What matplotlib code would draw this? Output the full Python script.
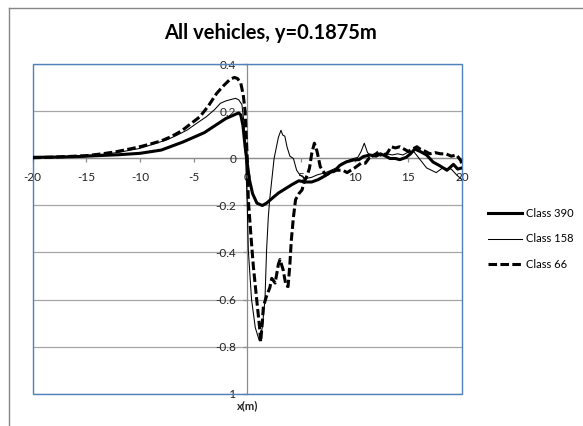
import matplotlib
matplotlib.use("Agg")
import matplotlib.pyplot as plt
from matplotlib.lines import Line2D
from matplotlib.patches import Rectangle

plt.rcParams["font.family"] = ["Lato", "DejaVu Sans"]

# class 390 - thick solid
x_390 = [-20, -18, -16, -14, -12, -10, -8, -6, -5, -4, -3, -2, -1.5, -1, -0.8, -0.6,
         -0.4, -0.2, 0, 0.2, 0.5, 0.9, 1.4, 1.8, 2.3, 2.9, 3.5, 4.2, 4.8, 5.4, 6.0,
         6.6, 7.2, 7.7, 8.2, 8.6, 9.2, 9.9, 10.4, 10.8, 11.4, 12.0, 12.4, 12.9, 13.3,
         13.8, 14.2, 14.8, 15.2, 15.6, 16.1, 16.7, 17.3, 17.9, 18.6, 19.2, 19.6, 20]
y_390 = [0.005, 0.006, 0.008, 0.012, 0.016, 0.022, 0.036, 0.07, 0.09, 0.11, 0.14,
         0.17, 0.18, 0.19, 0.194, 0.185, 0.14, 0.05, -0.02, -0.09, -0.15, -0.19,
         -0.2, -0.19, -0.17, -0.147, -0.13, -0.11, -0.095, -0.1, -0.1, -0.09,
         -0.075, -0.06, -0.05, -0.03, -0.015, -0.006, -0.005, 0.008, 0.015, 0.01,
         0.02, 0.01, 0.0, 0.0, -0.005, 0.005, 0.02, 0.04, 0.03, 0.015, -0.015,
         -0.03, -0.05, -0.025, -0.045, -0.04]

# class 158 - thin solid
x_158 = [-20, -17, -15, -13, -12, -10, -8.5, -7.5, -6.5, -5.6, -4.7, -3.8, -3, -2.5,
         -2, -1.6, -1.1, -0.8, -0.5, -0.3, -0.15, 0.0, 0.1, 0.4, 0.75, 1.12, 1.4,
         1.65, 1.8, 1.96, 2.1, 2.5, 2.9, 3.14, 3.3, 3.5, 3.7, 3.97, 4.3, 4.6, 4.9,
         5.2, 5.5, 6.0, 6.5, 6.9, 7.3, 7.8, 8.3, 8.8, 9.3, 9.9, 10.3, 10.6, 10.9,
         11.2, 11.7, 12.1, 12.4, 13, 13.5, 14, 14.5, 14.9, 15.5, 16.1, 16.7, 17.6,
         18.2, 19.0, 19.5, 20]
y_158 = [0.005, 0.008, 0.012, 0.02, 0.026, 0.043, 0.065, 0.079, 0.1, 0.121, 0.15,
         0.178, 0.21, 0.235, 0.245, 0.25, 0.256, 0.25, 0.23, 0.15, 0.0, -0.2,
         -0.39, -0.6, -0.72, -0.775, -0.72, -0.6, -0.39, -0.25, -0.17, 0.0, 0.09,
         0.12, 0.1, 0.095, 0.05, 0.01, 0.0, -0.05, -0.07, -0.08, -0.085, -0.08,
         -0.07, -0.065, -0.06, -0.05, -0.04, -0.02, -0.01, 0.0, 0.005, 0.03, 0.065,
         0.025, 0.005, 0.03, 0.01, 0.02, 0.015, 0.02, 0.015, 0.025, 0.03, -0.005,
         -0.04, -0.06, -0.04, -0.045, -0.07, -0.09]

# class 66 - thick dashed
x_66 = [-20, -18, -16, -15, -13.5, -12.2, -11, -10, -9, -8, -7, -6.1, -5.2, -4.4,
        -3.6, -2.85, -2.2, -1.6, -1.2, -0.9, -0.6, -0.37, -0.2, 0.0, 0.1, 0.32,
        0.57, 0.88, 1.15, 1.25, 1.4, 1.5, 1.8, 2.1, 2.28, 2.6, 2.9, 3.05, 3.35,
        3.6, 3.8, 3.97, 4.1, 4.3, 4.5, 4.8, 5.1, 5.3, 5.6, 5.8, 6.0, 6.25, 6.5,
        6.8, 7.3, 7.8, 8.3, 8.9, 9.3, 10.0, 10.6, 11.0, 11.4, 12.0, 12.5, 13.0,
        13.4, 13.8, 14.2, 14.6, 15.0, 15.4, 15.8, 16.1, 16.6, 17.0, 17.5, 18.0,
        18.5, 19.0, 19.5, 19.9, 20]
y_66 = [0.003, 0.006, 0.01, 0.012, 0.02, 0.029, 0.04, 0.05, 0.062, 0.075, 0.095,
        0.118, 0.15, 0.178, 0.225, 0.277, 0.31, 0.337, 0.345, 0.34, 0.32, 0.27,
        0.2, 0.0, -0.175, -0.315, -0.46, -0.6, -0.72, -0.78, -0.7, -0.63, -0.585,
        -0.55, -0.51, -0.53, -0.45, -0.43, -0.475, -0.54, -0.545, -0.45, -0.35,
        -0.25, -0.175, -0.15, -0.134, -0.1, -0.07, -0.04, 0.02, 0.065, 0.03,
        -0.035, -0.07, -0.06, -0.05, -0.05, -0.06, -0.04, -0.02, -0.02, 0.005,
        0.02, 0.015, 0.02, 0.05, 0.045, 0.05, 0.04, 0.03, 0.04, 0.05, 0.04, 0.03,
        0.02, 0.025, 0.02, 0.02, 0.01, 0.015, -0.01, -0.03]

x_ticks = [-20, -15, -10, -5, 0, 5, 10, 15, 20]
y_ticks = [-1, -0.8, -0.6, -0.4, -0.2, 0, 0.2, 0.4]

W, H = 583, 426
fig = plt.figure(figsize=(W / 100, H / 100), dpi=100)
ax = fig.add_axes([32.5 / W, 1 - 393.5 / H, (462 - 32.5) / W, (393.5 - 64.5) / H])

gray = "#8c8c8c"
blue = "#4f81bd"

ax.plot(x_390, y_390, color="black", lw=2.2, label="Class 390", zorder=5)
ax.plot(x_158, y_158, color="black", lw=0.75, label="Class 158", zorder=4)
ax.plot(x_66, y_66, color="black", lw=2.2, linestyle=(0, (2.8, 1.1)),
        label="Class 66", zorder=3)

ax.set_xlim(-20, 20)
ax.set_ylim(-1, 0.4)

for yv in y_ticks:
    ax.axhline(yv, color="#a6a6a6", lw=0.9, zorder=1)

# axes crossing at zero, excel style
ax.spines["left"].set_position(("data", 0))
ax.spines["bottom"].set_position(("data", 0))
for s in ("left", "bottom"):
    ax.spines[s].set_color(gray)
    ax.spines[s].set_linewidth(0.9)
    ax.spines[s].set_zorder(1.5)
for s in ("right", "top"):
    ax.spines[s].set_visible(False)
ax.add_patch(Rectangle((0, 0), 1, 1, transform=ax.transAxes, fill=False,
                       edgecolor=blue, lw=1.0, clip_on=False, zorder=2))

ax.set_xticks(x_ticks)
ax.set_xticklabels([str(v) for v in x_ticks])
ax.set_yticks(y_ticks)
ax.set_yticklabels(["-1", "-0.8", "-0.6", "-0.4", "-0.2", "0", "0.2", "0.4"])
ax.tick_params(axis="both", colors=gray, labelcolor="#222222", labelsize=8.5,
               length=3, width=0.9, direction="out")
ax.tick_params(axis="x", pad=7)
ax.tick_params(axis="y", pad=5)
for lab in ax.get_xticklabels() + ax.get_yticklabels():
    lab.set_zorder(0.5)

ax.text(0, -1.03, "x(m)", ha="center", va="top", fontsize=8, fontweight="bold",
        color="#222222")

fig.text(270 / W, 1 - 33 / H, "All vehicles, y=0.1875m", ha="center", va="center",
         fontsize=14.5, fontweight="bold")

fig.legend(loc="center left", bbox_to_anchor=(488 / W, 1 - 239 / H), frameon=False,
           fontsize=8, handlelength=3.1, handletextpad=0.3, labelspacing=1.3,
           borderpad=0, borderaxespad=0)

# outer chart border
fig.add_artist(Line2D([9 / W, 9 / W], [0, 1 - 8 / H], transform=fig.transFigure,
                      color="#868686", lw=1.0))
fig.add_artist(Line2D([9 / W, 1], [1 - 8 / H, 1 - 8 / H], transform=fig.transFigure,
                      color="#868686", lw=1.0))

fig.savefig("out.png", dpi=100)
